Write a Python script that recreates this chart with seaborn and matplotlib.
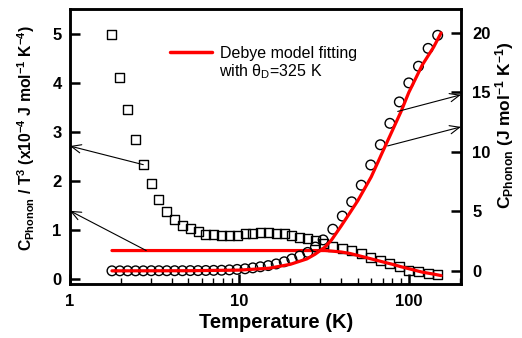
import matplotlib
matplotlib.use('Agg')
import matplotlib.pyplot as plt
import seaborn as sns
from matplotlib.lines import Line2D
from matplotlib.ticker import NullFormatter

# temperatures (K) of the measured points
temp = [1.77, 1.97, 2.19, 2.44, 2.71, 3.02, 3.35, 3.73, 4.15, 4.61,
        5.13, 5.70, 6.34, 7.05, 7.85, 8.73, 9.70, 10.8, 12.0, 13.3,
        14.8, 16.5, 18.4, 20.4, 22.7, 25.3, 28.1, 31.2, 35.6, 40.5,
        46.0, 52.4, 59.6, 67.9, 77.3, 87.9, 100, 114, 130, 148]
# C_phonon / T^3 (x1e-4 J mol-1 K-4), left axis
c_over_t3 = [4.98, 4.10, 3.45, 2.84, 2.33, 1.94, 1.63, 1.37, 1.22, 1.10,
             1.02, 0.96, 0.90, 0.90, 0.88, 0.88, 0.89, 0.92, 0.92, 0.94,
             0.94, 0.93, 0.92, 0.88, 0.85, 0.82, 0.78, 0.73, 0.67, 0.63,
             0.58, 0.51, 0.44, 0.37, 0.32, 0.25, 0.18, 0.16, 0.12, 0.09]
# C_phonon (J mol-1 K-1), right axis
c_phonon = [0.0, 0.0, 0.0, 0.0, 0.0, 0.01, 0.01, 0.01, 0.01, 0.01,
            0.02, 0.02, 0.03, 0.04, 0.05, 0.08, 0.12, 0.17, 0.25, 0.34,
            0.44, 0.58, 0.76, 1.0, 1.25, 1.55, 2.0, 2.6, 3.5, 4.6,
            5.8, 7.2, 8.9, 10.6, 12.4, 14.2, 15.8, 17.2, 18.7, 19.8]

# Debye model fit (theta_D = 325 K)
fit_t = [1.77, 5, 10, 15, 20, 25, 28, 32, 35, 40,
         45, 50, 60, 70, 80, 90, 100, 120, 140, 155]
fit_left = [0.58, 0.58, 0.58, 0.58, 0.58, 0.58, 0.58, 0.58, 0.57, 0.55,
            0.52, 0.48, 0.41, 0.35, 0.30, 0.25, 0.21, 0.14, 0.10, 0.07]
fit_right = [0.0, 0.01, 0.06, 0.22, 0.55, 1.0, 1.4, 2.0, 2.6, 3.8,
             4.9, 5.9, 7.9, 10.0, 11.8, 13.4, 15.0, 17.3, 18.8, 20.0]

# arrows: (tail T, tail value, head value) pointing to the axis they belong to
left_arrows = [(2.71, 2.33, 2.71), (2.82, 0.58, 1.39)]
right_arrows = [(86, 13.4, 14.8), (75, 10.5, 12.1)]

sns.set_style('ticks')
plt.rcParams['font.family'] = ['Liberation Sans', 'DejaVu Sans']
plt.rcParams['font.weight'] = 'bold'
plt.rcParams['mathtext.default'] = 'regular'
for key in ['text.color', 'axes.labelcolor', 'xtick.color', 'ytick.color', 'axes.edgecolor']:
    plt.rcParams[key] = 'black'

fig = plt.figure(figsize=(5.22, 3.38), dpi=100)
ax = fig.add_axes([0.134, 0.160, 0.749, 0.813])
ax2 = ax.twinx()

sns.scatterplot(x=temp, y=c_over_t3, marker='s', s=42, facecolor='none',
                edgecolor='black', linewidth=1.0, ax=ax, legend=False)
sns.lineplot(x=fit_t, y=fit_left, color='red', lw=2.3, ax=ax, legend=False)

sns.scatterplot(x=temp, y=c_phonon, marker='o', s=48, facecolor='none',
                edgecolor='black', linewidth=1.0, ax=ax2, legend=False)
sns.lineplot(x=fit_t, y=fit_right, color='red', lw=2.3, ax=ax2, legend=False)

ax.set_xscale('log')
ax.set_xlim(1, 203)
ax.set_ylim(-0.1, 5.5)
ax2.set_ylim(-1.1, 22)
ax.set_xticks([1, 10, 100])
ax.set_xticklabels(['1', '10', '100'])
ax.xaxis.set_minor_formatter(NullFormatter())
ax.set_yticks([0, 1, 2, 3, 4, 5])
ax2.set_yticks([0, 5, 10, 15, 20])

for a in (ax, ax2):
    for sp in a.spines.values():
        sp.set_linewidth(1.8)
ax.tick_params(which='major', direction='in', length=7, width=1.8, labelsize=12)
ax.tick_params(which='minor', direction='in', length=4, width=1.0)
ax.tick_params(axis='x', pad=7)
ax.tick_params(axis='y', pad=6)
ax2.tick_params(which='major', direction='in', length=7, width=1.8, labelsize=12, pad=8)

ax.set_xlabel('Temperature (K)', fontsize=14.5, fontweight='bold')
ax.xaxis.set_label_coords(0.527, -0.105)
ax.set_ylabel('C$_{Phonon}$ / T$^{3}$ (x10$^{-4}$ J mol$^{-1}$ K$^{-4}$)',
              fontsize=11.3, fontweight='bold')
ax.yaxis.set_label_coords(-0.085, 0.53)
ax2.set_ylabel('C$_{Phonon}$ (J mol$^{-1}$ K$^{-1}$)', fontsize=12.5,
               fontweight='bold')
ax2.yaxis.set_label_coords(1.083, 0.578)

arrow_kw = dict(arrowstyle='->,head_length=0.7,head_width=0.3', color='black',
                lw=0.8, shrinkA=0, shrinkB=0)
for t, v, h in left_arrows:
    ax.annotate('', xy=(1, h), xytext=(t, v), arrowprops=arrow_kw)
for t, v, h in right_arrows:
    ax2.annotate('', xy=(203, h), xytext=(t, v), arrowprops=arrow_kw)

ax.legend(handles=[Line2D([], [], color='red', lw=2.5)],
          labels=['Debye model fitting'], loc='center left',
          bbox_to_anchor=(0.256, 0.84), frameon=False, borderpad=0,
          borderaxespad=0, handlelength=2.6, handletextpad=0.55,
          prop={'size': 11.5, 'weight': 'normal'})
ax.text(0.381, 0.771, 'with θ$_{D}$=325 K', transform=ax.transAxes,
        fontsize=11.5, fontweight='normal', va='center', ha='left')

fig.savefig('out.png', dpi=100)
